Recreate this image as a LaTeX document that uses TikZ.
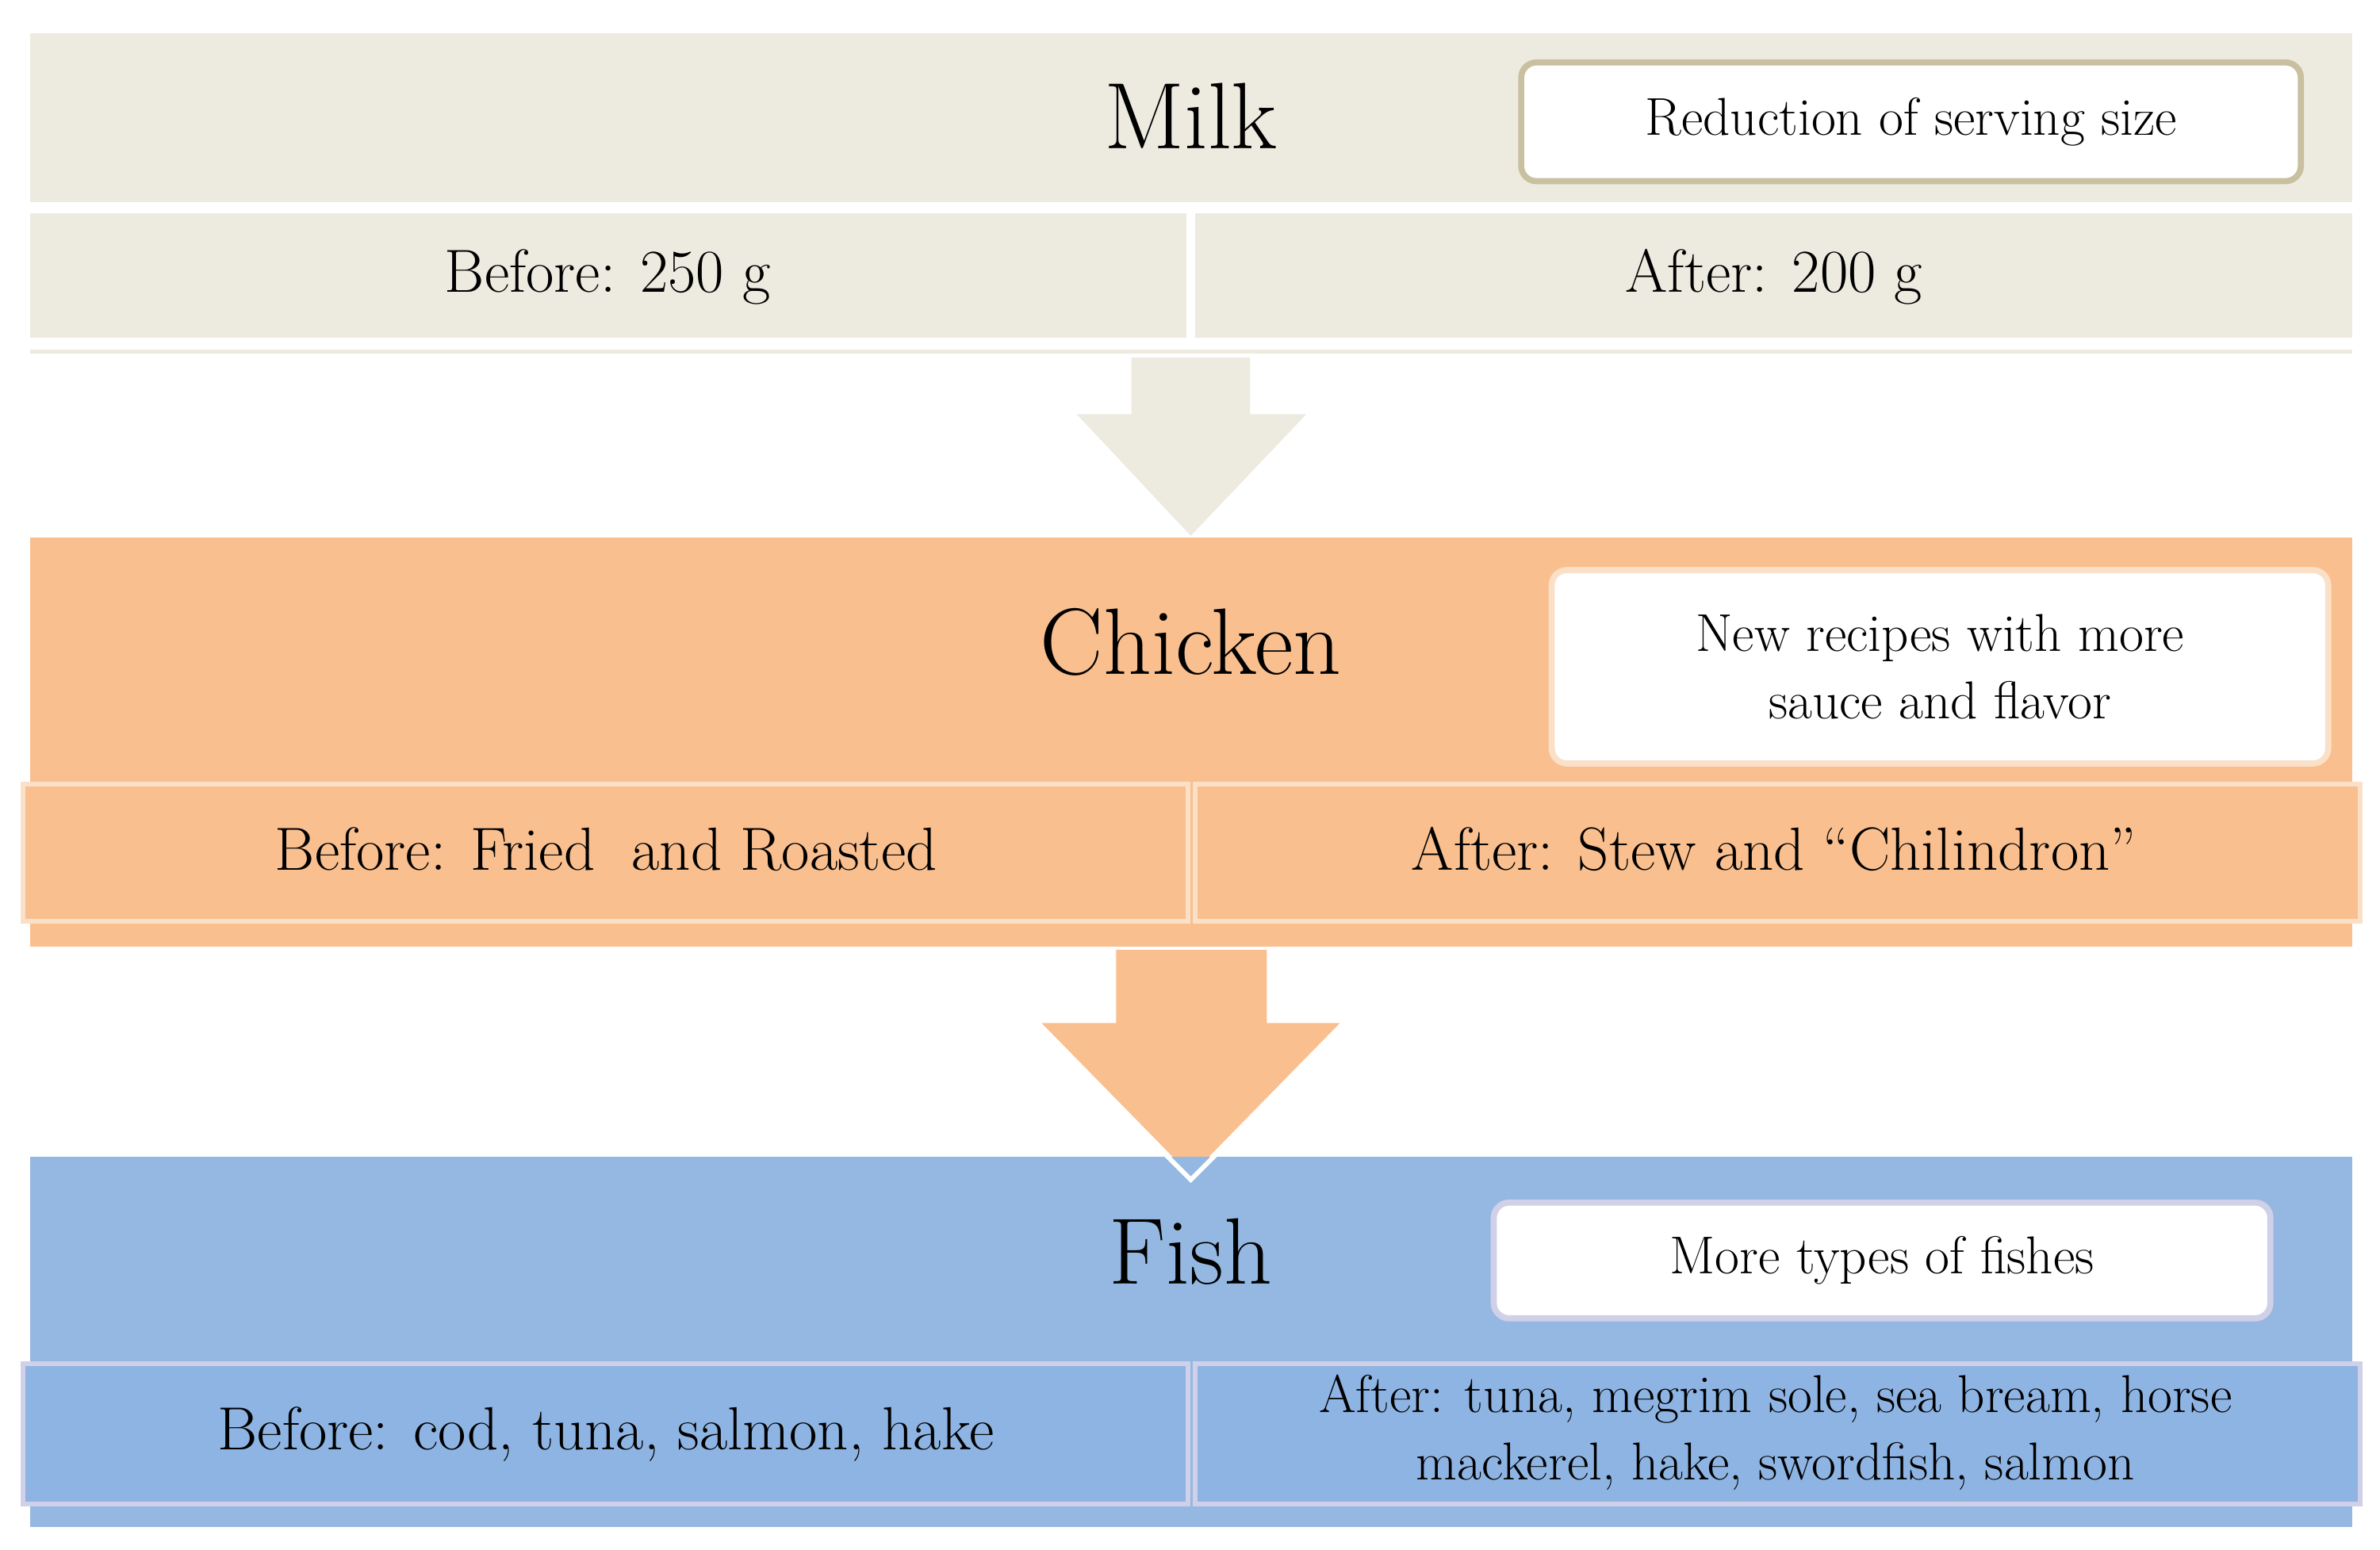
\documentclass[tikz,border=0pt]{standalone}
\usepackage{fontspec}
\begin{document}
\begin{tikzpicture}[x=1pt,y=-1pt,
  band/.style={draw=none,inner sep=0},
  cell/.style={inner sep=0,text width=#1},
  note/.style={draw,fill=white,rounded corners=10pt,line width=4pt,align=center},
  ttl/.style={font=\fontsize{62}{70}\selectfont},
  txt/.style={font=\fontsize{40}{44}\selectfont},
  ntxt/.style={font=\fontsize{35}{44}\selectfont}]
\definecolor{milk}{HTML}{EDEBE0}
\definecolor{milkb}{HTML}{C9C0A0}
\definecolor{chk}{HTML}{F9BF8F}
\definecolor{chkb}{HTML}{FBE0C8}
\definecolor{fsh}{HTML}{95B8E2}
\definecolor{fshc}{HTML}{8EB4E3}
\definecolor{fshb}{HTML}{D0D0E8}
\useasboundingbox (0,0) rectangle (1563,1018);
% Milk
\fill[milk] (20,22) rectangle (1545,133);
\node[ttl] (milk) at (782,76) {Milk};
\node[note,draw=milkb,minimum width=512pt,minimum height=78pt,ntxt] (mnote) at (1255,80) {Reduction of serving size};
\fill[milk] (20,140) rectangle (779,222);
\fill[milk] (785,140) rectangle (1545,222);
\node[txt] (mb) at (399,182) {Before: 250 g};
\node[txt] (ma) at (1165,182) {After: 200 g};
\draw[milk,line width=3pt] (20,231) -- (1545,231);
\fill[milk] (743,235) -- (821,235) -- (821,272) -- (858,272) -- (782,352) -- (707,272) -- (743,272) -- cycle;
% Chicken
\fill[chk] (20,353) rectangle (1545,622);
\node[ttl] (chk) at (782,422) {Chicken};
\node[note,draw=chkb,minimum width=510pt,minimum height=127pt,ntxt] (cnote) at (1274,438) {New recipes with more\\sauce and flavor};
\draw[chkb,fill=chk,line width=3pt] (15,515) rectangle (780,605);
\draw[chkb,fill=chk,line width=3pt] (785,515) rectangle (1550,605);
\node[txt] (cb) at (398,558) {Before: Fried\ \ and Roasted};
\node[txt] (ca) at (1165,558) {After: Stew and ``Chilindron''};
\fill[chk] (733,624) -- (832,624) -- (832,672) -- (880,672) -- (782,772) -- (684,672) -- (733,672) -- cycle;
% Fish
\fill[fsh] (20,760) rectangle (1545,1003);
\draw[white,line width=3pt] (765,758) -- (782,775) -- (799,758);
\node[ttl] (fish) at (782,822) {Fish};
\node[note,draw=fshb,minimum width=510pt,minimum height=76pt,ntxt] (fnote) at (1236,828) {More types of fishes};
\draw[fshb,fill=fshc,line width=3pt] (15,896) rectangle (780,988);
\draw[fshb,fill=fshc,line width=3pt] (785,896) rectangle (1550,988);
\node[txt] (fb) at (398,942) {Before: cod,\ tuna, salmon, hake};
\node[ntxt,align=center] (fa) at (1166,941) {After: tuna,\ megrim sole, sea bream, horse\\mackerel, hake, swordfish, salmon};
\end{tikzpicture}
\end{document}
